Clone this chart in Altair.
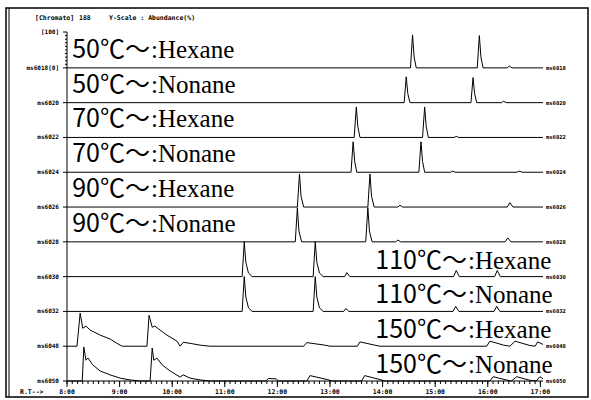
import altair as alt
import pandas as pd

# ---------------------------------------------------------------------------
# Stacked GC-MS chromatograms, oven start temperature x injection solvent
# ---------------------------------------------------------------------------
T_START, T_END = 8.0, 17.05            # retention-time window [min]

TEMPS = ["50℃～", "50℃～", "70℃～", "70℃～", "90℃～", "90℃～",
         "110℃～", "110℃～", "150℃～", "150℃～"]
SOLVENTS = [":Hexane", ":Nonane"] * 5
CHANNELS = ["ms6018", "ms6020", "ms6022", "ms6024", "ms6026",
            "ms6028", "ms6030", "ms6032", "ms6048", "ms6050"]
AXIS_NAMES = ["ms6018[0]"] + CHANNELS[1:]

# trace vertices: (retention time [min], abundance [%])
HEX_50 = [(8.0, 0), (14.53, 0), (14.57, 92), (14.60, 30), (14.64, 0),
          (15.80, 0), (15.84, 90), (15.87, 30), (15.91, 0),
          (16.37, 0), (16.41, 5), (16.46, 0), (17.05, 0)]
NON_50 = [(8.0, 0), (14.41, 0), (14.45, 72), (14.48, 25), (14.52, 0),
          (15.68, 0), (15.72, 70), (15.75, 25), (15.79, 0),
          (16.26, 0), (16.30, 4), (16.35, 0), (17.05, 0)]
HEX_70 = [(8.0, 0), (13.46, 0), (13.50, 85), (13.53, 30), (13.57, 0),
          (14.76, 0), (14.80, 85), (14.83, 30), (14.87, 0),
          (15.36, 0), (15.40, 3), (15.45, 0), (17.05, 0)]
NON_70 = [(8.0, 0), (13.40, 0), (13.44, 85), (13.47, 30), (13.51, 0),
          (14.69, 0), (14.73, 85), (14.76, 30), (14.80, 0),
          (15.29, 0), (15.33, 3), (15.38, 0),
          (16.55, 0), (16.60, 3), (16.66, 0), (17.05, 0)]
HEX_90 = [(8.0, 0), (12.38, 0), (12.42, 92), (12.45, 30), (12.50, 0),
          (13.72, 0), (13.76, 92), (13.79, 30), (13.84, 0),
          (14.29, 0), (14.33, 5), (14.38, 0),
          (16.37, 0), (16.42, 12), (16.48, 0), (17.05, 0)]
NON_90 = [(8.0, 0), (12.34, 0), (12.38, 95), (12.41, 30), (12.46, 0),
          (13.68, 0), (13.72, 95), (13.75, 30), (13.80, 0),
          (14.25, 0), (14.29, 5), (14.34, 0),
          (16.33, 0), (16.38, 11), (16.44, 0), (17.05, 0)]
HEX_110 = [(8.0, 0), (11.33, 0), (11.37, 97), (11.40, 40), (11.45, 10), (11.52, 0),
           (12.68, 0), (12.72, 97), (12.75, 40), (12.80, 10), (12.87, 0),
           (13.28, 0), (13.32, 11), (13.38, 0),
           (15.35, 0), (15.40, 17), (15.46, 0),
           (16.13, 0), (16.18, 17), (16.24, 0), (17.05, 0)]
NON_110 = [(8.0, 0), (11.33, 0), (11.37, 97), (11.40, 40), (11.45, 10), (11.52, 0),
           (12.68, 0), (12.72, 97), (12.75, 40), (12.80, 10), (12.87, 0),
           (13.26, 0), (13.30, 8), (13.36, 0),
           (15.34, 0), (15.39, 14), (15.45, 0),
           (16.12, 0), (16.17, 14), (16.23, 0), (17.05, 0)]
HEX_150 = [(8.0, 0), (8.19, 0), (8.25, 92), (8.30, 50), (8.36, 56), (8.44, 45),
           (8.63, 31), (8.82, 20), (8.95, 8), (9.05, 0),
           (9.52, 0), (9.56, 86), (9.62, 53), (9.67, 56), (9.77, 45),
           (9.90, 31), (10.09, 14), (10.15, 0), (10.21, 11), (10.34, 8),
           (10.53, 3), (10.72, 0),
           (12.50, 0), (12.56, 10), (12.90, 3), (13.00, 0),
           (13.52, 0), (13.57, 12), (13.85, 3), (13.95, 0),
           (15.98, 0), (16.04, 14), (16.30, 3), (16.42, 0),
           (16.52, 14), (16.80, 2), (16.90, 0), (16.95, 12), (17.05, 5)]
NON_150 = [(8.0, 0), (8.29, 0), (8.32, 95), (8.36, 58), (8.40, 64), (8.49, 45),
           (8.63, 28), (8.82, 17), (9.01, 8), (9.20, 3), (9.39, 0),
           (9.58, 0), (9.62, 92), (9.65, 58), (9.71, 64), (9.81, 45),
           (9.96, 28), (10.15, 11), (10.21, 17), (10.34, 8), (10.53, 3),
           (10.72, 0),
           (11.78, 0), (11.83, 7), (11.98, 6), (12.02, 0),
           (12.56, 0), (12.62, 15), (12.95, 4), (13.05, 0),
           (13.60, 0), (13.66, 15), (13.95, 4), (14.05, 0),
           (16.04, 0), (16.10, 12), (16.35, 3), (16.45, 0),
           (16.55, 12), (16.80, 2), (16.92, 0), (16.99, 12), (17.05, 6)]

TRACES = [HEX_50, NON_50, HEX_70, NON_70, HEX_90, NON_90,
          HEX_110, NON_110, HEX_150, NON_150]

ROW_STEP = 97                      # vertical offset between stacked traces (% units)
N = len(TRACES)
Y_TOP = (N - 1) * ROW_STEP + 100   # 100 % of the top trace

MAJOR_TICKS = list(range(8, 18))
MINOR_TICKS = [round(T_START + 0.1 * k, 1) for k in range(91)]
Y_MINOR = [(N - 1) * ROW_STEP + 10 * k for k in range(1, 10)]

records = []
for i, trace in enumerate(TRACES):
    base = (N - 1 - i) * ROW_STEP
    for t, a in trace:
        records.append({"row": i, "rt": t, "y": base + a})
trace_df = pd.DataFrame(records)

label_df = pd.DataFrame({
    "row": list(range(N)),
    "temp": TEMPS,
    "solvent": SOLVENTS,
    "channel": CHANNELS,
    "axis_name": AXIS_NAMES,
    "base": [(N - 1 - i) * ROW_STEP for i in range(N)],
    "rt_end": [T_END] * N,
})
left_df = label_df[label_df["row"] < 6]
right_df = label_df[label_df["row"] >= 6]

W, H = 476, 349
SMALL = "DejaVu Sans Mono"
SANS = "Noto Sans CJK JP"
SERIF = "Liberation Serif"

xs = alt.Scale(domain=[T_START, T_END], nice=False, zero=False)
ys = alt.Scale(domain=[0, Y_TOP], nice=False, zero=False)

def X(field):
    return alt.X(field, scale=xs, axis=None)

def Y(field):
    return alt.Y(field, scale=ys, axis=None)

traces = alt.Chart(trace_df).mark_line(color="black", strokeWidth=1).encode(
    x=X("rt:Q"), y=Y("y:Q"), detail="row:N", order="rt:Q")

# ---- retention-time axis ----
one = pd.DataFrame({"k": [0]})
x_domain = alt.Chart(one).mark_rule(color="black", strokeWidth=1).encode(
    x=alt.value(0), x2=alt.value(W), y=alt.value(H))
x_minor = alt.Chart(pd.DataFrame({"rt": MINOR_TICKS})).mark_rule(
    color="black", strokeWidth=1).encode(
    x=X("rt:Q"), y=alt.value(H), y2=alt.value(H + 3))
x_major = alt.Chart(pd.DataFrame({"rt": MAJOR_TICKS})).mark_rule(
    color="black", strokeWidth=1).encode(
    x=X("rt:Q"), y=alt.value(H), y2=alt.value(H + 6))
x_labels = alt.Chart(pd.DataFrame({"rt": MAJOR_TICKS})).mark_text(
    font=SMALL, fontSize=6.5, fontWeight="bold", align="center",
    baseline="middle", color="black").encode(
    x=X("rt:Q"), y=alt.value(H + 11),
    text=alt.Text("label:N")).transform_calculate(
    label="datum.rt + ':00'")

# ---- abundance axis ----
y_domain = alt.Chart(one).mark_rule(color="black", strokeWidth=1).encode(
    x=alt.value(0), y=alt.value(0), y2=alt.value(H))
y_ticks = alt.Chart(label_df).mark_rule(color="black", strokeWidth=1).encode(
    y=Y("base:Q"), x=alt.value(-4), x2=alt.value(0))
y_minor = alt.Chart(pd.DataFrame({"y": Y_MINOR})).mark_rule(
    color="black", strokeWidth=1).encode(
    y=Y("y:Q"), x=alt.value(-2), x2=alt.value(0))
y_top = alt.Chart(pd.DataFrame({"y": [Y_TOP], "txt": ["[100]"]}))
y_top_tick = y_top.mark_rule(color="black", strokeWidth=1).encode(
    y=Y("y:Q"), x=alt.value(-4), x2=alt.value(0))
y_top_label = y_top.mark_text(
    font=SMALL, fontSize=6, fontWeight="bold", align="right",
    baseline="middle", color="black").encode(
    y=Y("y:Q"), x=alt.value(-8), text="txt:N")
y_labels = alt.Chart(label_df).mark_text(
    font=SMALL, fontSize=6, fontWeight="bold", align="right",
    baseline="middle", color="black").encode(
    y=Y("base:Q"), x=alt.value(-8), text="axis_name:N")

# ---- condition labels ----
def big_labels(df, x_join, dy):
    temp = alt.Chart(df).mark_text(
        font=SANS, fontSize=25, align="right", baseline="alphabetic",
        dy=dy, color="black").encode(
        x=alt.value(x_join), y=Y("base:Q"), text="temp:N")
    solv = alt.Chart(df).mark_text(
        font=SERIF, fontSize=25, align="left", baseline="alphabetic",
        dy=dy, dx=1, color="black").encode(
        x=alt.value(x_join), y=Y("base:Q"), text="solvent:N")
    return temp + solv

channel_tags = alt.Chart(label_df).mark_text(
    font=SMALL, fontSize=5.5, fontWeight="bold", align="left",
    baseline="middle", dx=3, color="black").encode(
    x=X("rt_end:Q"), y=Y("base:Q"), text="channel:N")

# ---- page frame and header ----
frame = alt.Chart(one).mark_rect(filled=False, stroke="black",
                                 strokeWidth=1.5).encode(
    x=alt.value(-61), x2=alt.value(521), y=alt.value(-24), y2=alt.value(365))
frame_inner = alt.Chart(one).mark_rule(color="black", strokeWidth=1).encode(
    x=alt.value(-58), y=alt.value(-24), y2=alt.value(365))

header = alt.Chart(pd.DataFrame({
    "txt": ["[Chromato]", "188", "Y-Scale : Abundance(%)"],
    "px": [-32, 12, 42]})).mark_text(
    font=SMALL, fontSize=6.5, fontWeight="bold", align="left",
    baseline="middle", color="black").encode(
    x=alt.X("px:Q", scale=None, axis=None), y=alt.value(-14), text="txt:N")

rt_tag = alt.Chart(one).mark_text(
    font=SMALL, fontSize=6.5, fontWeight="bold", align="left",
    baseline="middle", color="black", text="R.T-->").encode(
    x=alt.value(-47), y=alt.value(H + 11))

chart = alt.layer(
    frame, frame_inner, traces,
    x_domain, x_minor, x_major, x_labels,
    y_domain, y_ticks, y_minor, y_top_tick, y_top_label, y_labels,
    big_labels(left_df, 83, -10), big_labels(right_df, 400, -8),
    channel_tags, header, rt_tag,
).properties(
    width=W, height=H,
    padding={"left": 67, "top": 32, "right": 48, "bottom": 19},
    autosize=alt.AutoSizeParams(type="none"),
    background="white",
).configure_view(stroke=None)

chart.save("out.html", embed_options={"renderer": "svg", "actions": False})
